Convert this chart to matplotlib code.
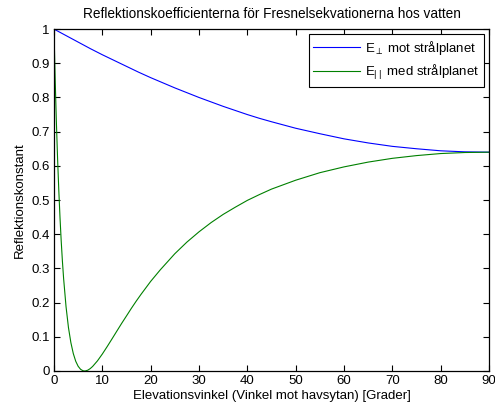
import matplotlib
matplotlib.use("Agg")
import matplotlib.pyplot as plt
from matplotlib.ticker import FuncFormatter

plt.rcParams['font.family'] = ['Liberation Sans', 'DejaVu Sans']
plt.rcParams['mathtext.fontset'] = 'custom'
plt.rcParams['mathtext.rm'] = 'Liberation Sans'
plt.rcParams['mathtext.it'] = 'Liberation Sans'

FS = 9.5

# Elevation angles [degrees] and reflection values
angle_perp = [0, 2.5, 5, 7.5, 10, 12.5, 15, 17.5, 20, 22.5, 25, 27.5, 30, 32.5, 35,
              37.5, 40, 42.5, 45, 50, 55, 60, 65, 70, 75, 80, 85, 90]
refl_perp = [1.0, 0.981, 0.962, 0.943, 0.925, 0.908, 0.891, 0.874, 0.858, 0.843,
             0.828, 0.814, 0.800, 0.787, 0.774, 0.762, 0.750, 0.739, 0.729,
             0.710, 0.694, 0.679, 0.667, 0.657, 0.650, 0.644, 0.641, 0.640]

angle_par = [0, 0.25, 0.5, 0.75, 1, 1.25, 1.5, 1.75, 2, 2.5, 3, 3.5, 4, 4.5, 5, 5.5,
             6, 6.34, 6.5, 7, 7.5, 8, 9, 10, 11, 12, 13, 14, 15, 16, 17, 18, 19,
             20, 22, 25, 27.5, 30, 32.5, 35, 37.5, 40, 42.5, 45, 50, 55, 60, 65,
             70, 75, 80, 85, 90]
refl_par = [1.0, 0.854, 0.729, 0.621, 0.529, 0.449, 0.380, 0.321, 0.270, 0.188,
            0.127, 0.083, 0.051, 0.0286, 0.0139, 0.0050, 0.0008, 0.0, 0.0002,
            0.0024, 0.0070, 0.0133, 0.0297, 0.0495, 0.0712, 0.0937, 0.1165,
            0.1392, 0.161, 0.183, 0.204, 0.224, 0.243, 0.262, 0.296, 0.343,
            0.377, 0.407, 0.434, 0.458, 0.479, 0.499, 0.516, 0.532, 0.558,
            0.580, 0.597, 0.611, 0.622, 0.630, 0.636, 0.639, 0.640]

x_ticks = list(range(0, 91, 10))
y_ticks = [i / 10 for i in range(11)]

fig = plt.figure(figsize=(4.95, 4.08), dpi=100)
ax = fig.add_axes([0.109, 0.0907, 0.879, 0.838])

ax.plot(angle_perp, refl_perp, color=(0, 0, 1), lw=0.8,
        label=r'E$_\perp$ mot strålplanet')
ax.plot(angle_par, refl_par, color=(0, 0.5, 0), lw=0.8,
        label=r'E$_{|\;|}\,$ med strålplanet')

ax.set_xlim(0, 90)
ax.set_ylim(0, 1)
ax.set_xticks(x_ticks)
ax.set_yticks(y_ticks)
ax.yaxis.set_major_formatter(FuncFormatter(lambda v, p: f'{v:g}'))
ax.tick_params(direction='in', top=True, right=True, labelsize=FS, length=4,
               width=0.8, pad=3)
for s in ax.spines.values():
    s.set_linewidth(0.9)

ax.set_title('Reflektionskoefficienterna för Fresnelsekvationerna hos vatten',
             fontsize=9.8, pad=8)
ax.set_xlabel('Elevationsvinkel (Vinkel mot havsytan) [Grader]', fontsize=FS,
              labelpad=2)
ax.set_ylabel('Reflektionskonstant', fontsize=FS, labelpad=4)

leg = ax.legend(loc='upper right', fontsize=FS, fancybox=False, framealpha=1,
                edgecolor='black', borderaxespad=0.4, handlelength=3.5,
                handletextpad=0.4, borderpad=0.35, labelspacing=0.45)
leg.get_frame().set_linewidth(0.8)

fig.savefig('out.png', dpi=100)
